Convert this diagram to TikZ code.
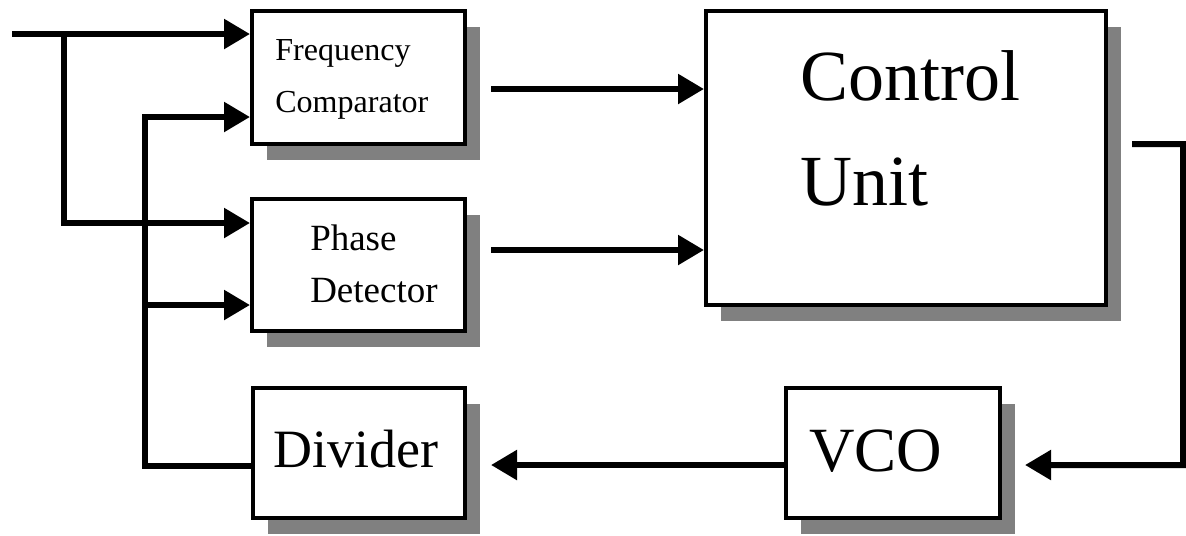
\documentclass[tikz,border=0pt]{standalone}
\usepackage{fontspec}
\setmainfont{Liberation Serif}
\usetikzlibrary{arrows.meta,shadows}

\tikzset{
  block/.style={draw, line width=1mm, fill=white, inner sep=0pt,
    drop shadow={shadow xshift=3.75mm, shadow yshift=-4mm, fill=black!50, opacity=1}},
  wire/.style={line width=1.5mm},
  sig/.style={wire, -{Triangle[length=6.5mm,width=7.2mm]}},
  caption/.style={anchor=west, inner sep=0pt, align=left},
}

\begin{document}
\begin{tikzpicture}[x=0.25mm, y=-0.25mm]
  \useasboundingbox (0,0) rectangle (1186,535);

  % Blocks
  \node[block, minimum width=53.25mm, minimum height=33.25mm] (fc) at (358.5,77.5) {};
  \node[block, minimum width=53.25mm, minimum height=33mm] (pd) at (358.5,265) {};
  \node[block, minimum width=100mm, minimum height=73.5mm] (cu) at (906,158) {};
  \node[block, minimum width=53mm, minimum height=32.5mm] (dv) at (359,453) {};
  \node[block, minimum width=53.5mm, minimum height=32.5mm] (vco) at (893,453) {};

  % Labels
  \node[caption, font=\fontsize{22.8}{37}\selectfont] (fc-txt) at (275,79) {Frequency\\Comparator};
  \node[caption, font=\fontsize{26.3}{37}\selectfont] (pd-txt) at (310,263.5) {Phase\\Detector};
  \node[caption, font=\fontsize{51.2}{74.7}\selectfont] (cu-txt) at (800,128) {Control\\Unit};
  \node[caption, font=\fontsize{38.4}{46}\selectfont] (dv-txt) at (273,449.5) {Divider};
  \node[caption, font=\fontsize{44.8}{54}\selectfont] (vco-txt) at (809,451) {VCO};

  % Bends and taps
  \coordinate (in) at (12,34);
  \coordinate (split) at (64,34);
  \coordinate (fb) at (145,117);
  \coordinate (tap) at (145,305);
  \coordinate (out) at (1183,144);
  \coordinate (ret) at (1183,465);
  \coordinate (fc-out) at ([xshift=6mm,yshift=-2.875mm]fc.east);
  \coordinate (pd-out) at ([xshift=6mm,yshift=3.75mm]pd.east);

  % Inputs
  \draw[sig] (in) -- (in -| fc.west);
  \draw[sig] (split) |- ([yshift=10.5mm]pd.west);

  % Feedback from divider
  \draw[sig] ([yshift=-3.25mm]dv.west) -| (fb) -- (fb -| fc.west);
  \draw[sig] (tap) -- (tap -| pd.west);

  % To control unit
  \draw[sig] (fc-out) -- (fc-out -| cu.west);
  \draw[sig] (pd-out) -- (pd-out -| cu.west);

  % Loop back through VCO
  \draw[sig] ([xshift=6mm,yshift=3.5mm]cu.east) -- (out) -- (ret) -- ([xshift=5.75mm,yshift=-3mm]vco.east);
  \draw[sig] ([yshift=-3mm]vco.west) -- ([xshift=6mm,yshift=-3mm]dv.east);
\end{tikzpicture}
\end{document}
